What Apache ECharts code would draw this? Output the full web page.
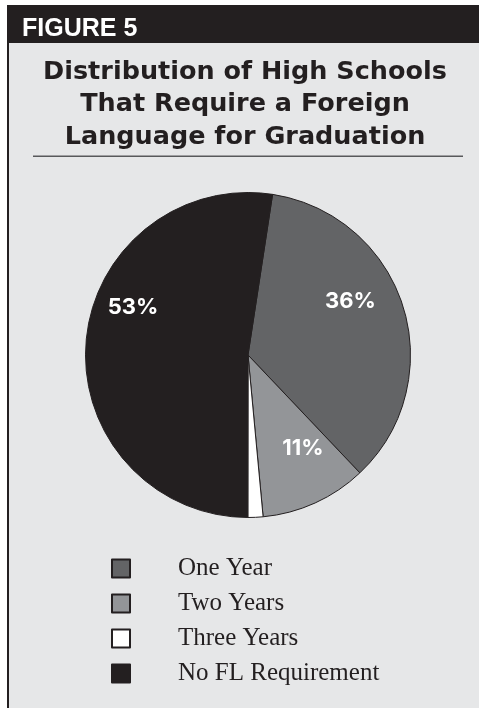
<!DOCTYPE html>
<html>
<head>
<meta charset="utf-8">
<script src="https://cdn.jsdelivr.net/npm/echarts@6/dist/echarts.min.js"></script>
<style>
html,body{margin:0;padding:0;background:#ffffff;}
#chart{width:479px;height:708px;}
</style>
</head>
<body>
<div id="chart"></div>
<script>
// Data
const categories = ["One Year", "Two Years", "Three Years", "No FL Requirement"];
const shares = [35.5, 10.6, 1.5, 52.4];
const shareLabels = ["36%", "11%", "", "53%"];
const colors = ["#636466", "#939598", "#ffffff", "#231f20"];

const figureLabel = "FIGURE 5";
const chartTitle = "Distribution of High Schools\nThat Require a Foreign\nLanguage for Graduation";

// label nudges from the default inside position (layout only)
const labelNudge = [[22, -28], [20, 17], [0, 0], [-31, -41]];

const SANS = 'Inter, Liberation Sans, Arial, sans-serif';
const SERIF = 'Liberation Serif, Times New Roman, serif';

const chart = echarts.init(document.getElementById('chart'), null, {renderer: 'canvas'});

const option = {
  backgroundColor: '#ffffff',
  animation: false,
  graphic: [
    {type: 'rect', z: -10, shape: {x: 9, y: 43, width: 470, height: 665}, style: {fill: '#e6e7e8'}},
    {type: 'rect', z: -9, shape: {x: 7, y: 5, width: 472, height: 38}, style: {fill: '#231f20'}},
    {type: 'rect', z: -9, shape: {x: 7, y: 5, width: 2, height: 703}, style: {fill: '#231f20'}},
    {type: 'rect', z: -9, shape: {x: 33, y: 155.5, width: 430, height: 1.5}, style: {fill: '#58595b'}}
  ],
  title: [
    {
      text: figureLabel,
      left: 17, top: 11,
      textStyle: {color: '#ffffff', fontFamily: 'Liberation Sans, Arial, sans-serif', fontWeight: 'bold', fontSize: 25, lineHeight: 26}
    },
    {
      text: chartTitle,
      left: 240, top: 51, textAlign: 'center',
      textStyle: {color: '#231f20', fontFamily: 'DejaVu Sans, Liberation Sans, sans-serif', fontWeight: 'bold', fontSize: 25.5, lineHeight: 32.5, align: 'center'}
    }
  ],
  legend: {
    orient: 'vertical',
    left: 106, top: 551,
    itemWidth: 18, itemHeight: 18,
    itemGap: 10,
    icon: 'rect',
    selectedMode: false,
    data: categories,
    textStyle: {color: '#231f20', fontFamily: SERIF, fontSize: 25, lineHeight: 25, padding: [0, 0, 0, 43]}
  },
  series: [{
    type: 'pie',
    center: [248, 355],
    radius: [0, 162.5],
    startAngle: 81.3,
    clockwise: true,
    avoidLabelOverlap: false,
    itemStyle: {borderColor: '#231f20', borderWidth: 1},
    label: {
      show: true,
      position: 'inside',
      color: '#ffffff',
      fontFamily: SANS,
      fontWeight: 'bold',
      fontSize: 22,
      formatter: p => shareLabels[p.dataIndex]
    },
    labelLine: {show: false},
    labelLayout: p => ({dx: labelNudge[p.dataIndex][0], dy: labelNudge[p.dataIndex][1]}),
    emphasis: {disabled: true},
    data: categories.map((c, i) => ({name: c, value: shares[i], itemStyle: {color: colors[i]}}))
  }]
};
chart.setOption(option);
</script>
</body>
</html>
